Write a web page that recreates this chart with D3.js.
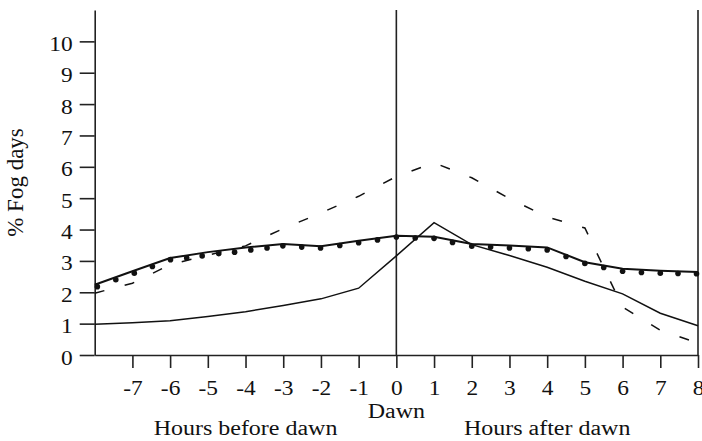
<!DOCTYPE html>
<html>
<head>
<meta charset="utf-8">
<script src="https://cdn.jsdelivr.net/npm/d3@7"></script>
<style>
  body { margin: 0; background: #fff; }
  text { font-family: "Liberation Serif", "Times New Roman", serif; fill: #111; }
</style>
</head>
<body>
<div id="plot"></div>
<script>
const hours = [-8, -7, -6, -5, -4, -3, -2, -1, 0, 1, 2, 3, 4, 5, 6, 7, 8];
const upperSolid = [2.24, 2.67, 3.09, 3.28, 3.43, 3.54, 3.47, 3.64, 3.80, 3.77, 3.54, 3.49, 3.43, 2.96, 2.75, 2.69, 2.65];
const dashedValues = [1.97, 2.29, 2.88, 3.18, 3.48, 4.03, 4.53, 5.06, 5.69, 6.13, 5.65, 4.99, 4.40, 4.05, 1.53, 0.79, 0.38];
const lowerSolid = [0.98, 1.03, 1.09, 1.23, 1.38, 1.58, 1.79, 2.13, 3.16, 4.22, 3.52, 3.17, 2.80, 2.35, 1.95, 1.33, 0.93];

const dotHours = [-7.93, -7.44, -6.95, -6.47, -5.99, -5.56, -5.15, -4.71, -4.29, -3.86, -3.43, -3.01, -2.51, -2.01, -1.5, -1.0, -0.5, 0, 0.5, 1, 1.49, 2, 2.5, 3, 3.5, 4, 4.5, 5, 5.5, 6, 6.5, 7, 7.47, 7.96];
const dotValues = [2.18, 2.40, 2.61, 2.82, 3.04, 3.09, 3.16, 3.23, 3.28, 3.35, 3.41, 3.48, 3.44, 3.41, 3.49, 3.58, 3.67, 3.76, 3.73, 3.72, 3.59, 3.47, 3.44, 3.41, 3.39, 3.35, 3.14, 2.92, 2.79, 2.67, 2.63, 2.61, 2.60, 2.59];

const xTicks = [-7, -6, -5, -4, -3, -2, -1, 0, 1, 2, 3, 4, 5, 6, 7, 8];
const yTicks = [0, 1, 2, 3, 4, 5, 6, 7, 8, 9, 10];

const width = 702;
const height = 441;
const stretch = 1.17; // glyphs in the reference are a bit wide

const svg = d3
  .select("#plot")
  .append("svg")
  .attr("width", width)
  .attr("height", height);

const x = d3.scaleLinear().domain([-8, 8]).range([94.7, 698]);
const y = d3.scaleLinear().domain([0, 11]).range([355, 10]);

// y axis
const yAxis = d3
  .axisLeft(y)
  .tickValues(yTicks)
  .tickFormat((d) => String(d))
  .tickSize(15)
  .tickSizeOuter(0);
const gy = svg
  .append("g")
  .attr("transform", `translate(${x(-8)}, 0)`)
  .call(yAxis);
gy.selectAll("text")
  .attr("x", 0)
  .attr("dy", 0)
  .attr("text-anchor", "end")
  .style("font-size", "20px")
  .attr("transform", `translate(-22, 9) scale(${stretch}, 1)`);

// x axis, plain hyphens like the reference
const xAxis = d3
  .axisBottom(x)
  .tickValues(xTicks)
  .tickFormat((d) => String(d))
  .tickSize(13)
  .tickSizeOuter(0);
const gx = svg
  .append("g")
  .attr("transform", `translate(0, ${y(0)})`)
  .call(xAxis);
gx.selectAll("text")
  .attr("y", 0)
  .attr("dy", 0)
  .attr("text-anchor", "middle")
  .style("font-size", "20px")
  .attr("transform", `translate(0, 40) scale(${stretch}, 1)`);

svg.selectAll(".domain, .tick line")
  .attr("stroke", "#222")
  .attr("stroke-width", 1.6);

// dawn line and right frame line
svg
  .selectAll(".vline")
  .data([0, 8])
  .enter()
  .append("line")
  .attr("class", "vline")
  .attr("x1", (d) => x(d))
  .attr("x2", (d) => x(d))
  .attr("y1", y(11))
  .attr("y2", y(0))
  .attr("stroke", "#222")
  .attr("stroke-width", 1.6);

const line = d3
  .line()
  .x((d) => x(d[0]))
  .y((d) => y(d[1]));

svg
  .append("path")
  .datum(d3.zip(hours, dashedValues))
  .attr("d", line)
  .attr("fill", "none")
  .attr("stroke", "#111")
  .attr("stroke-width", 1.5)
  .attr("stroke-dasharray", "10,21");

svg
  .append("path")
  .datum(d3.zip(hours, lowerSolid))
  .attr("d", line)
  .attr("fill", "none")
  .attr("stroke", "#111")
  .attr("stroke-width", 1.5);

svg
  .append("path")
  .datum(d3.zip(hours, upperSolid))
  .attr("d", line)
  .attr("fill", "none")
  .attr("stroke", "#111")
  .attr("stroke-width", 2);

svg
  .selectAll(".dot")
  .data(d3.zip(dotHours, dotValues))
  .enter()
  .append("circle")
  .attr("class", "dot")
  .attr("cx", (d) => x(d[0]))
  .attr("cy", (d) => y(d[1]))
  .attr("r", 2.8)
  .attr("fill", "#111");

// labels
svg
  .append("text")
  .text("% Fog days")
  .attr("text-anchor", "middle")
  .style("font-size", "23px")
  .attr("transform", `translate(23, ${(y(0) + y(11)) / 2}) rotate(-90)`);

const bottomLabels = [
  { text: "Dawn", x: 0, y: 418 },
  { text: "Hours before dawn", x: -4, y: 435 },
  { text: "Hours after dawn", x: 4, y: 435 },
];

svg
  .selectAll(".blabel")
  .data(bottomLabels)
  .enter()
  .append("text")
  .attr("class", "blabel")
  .text((d) => d.text)
  .attr("text-anchor", "middle")
  .style("font-size", "20.5px")
  .attr("transform", (d) => `translate(${x(d.x)}, ${d.y}) scale(${stretch}, 1)`);
</script>
</body>
</html>
